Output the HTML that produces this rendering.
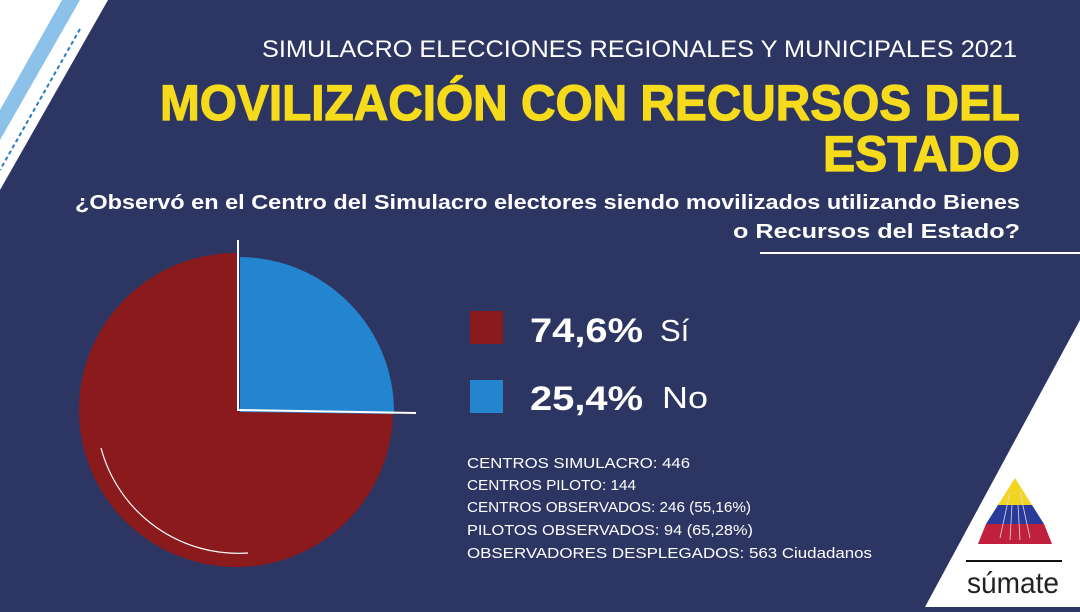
<!DOCTYPE html>
<html><head><meta charset="utf-8"><style>
html,body{margin:0;padding:0;}
body{width:1080px;height:607px;overflow:hidden;background:#2d3663;}
</style></head><body>
<svg width="1080" height="607" viewBox="0 0 1080 607" xmlns="http://www.w3.org/2000/svg" font-family="Liberation Sans, sans-serif">
<rect width="1080" height="607" fill="#2d3663"/>
<polygon points="0,0 108,0 0,190" fill="#ffffff"/>
<polygon points="62,0 80,0 0,140 0,110" fill="#8cc2ea"/>
<line x1="80" y1="29" x2="0" y2="170" stroke="#2a7bc0" stroke-width="2" stroke-dasharray="4,3"/>
<polygon points="1080,320 1080,607 925,607" fill="#ffffff"/>
<!-- logo -->
<polygon points="1015,478 1032,505 998,505" fill="#f2d520"/>
<polygon points="998,505 1032,505 1044,524 986,524" fill="#2a3a9a"/>
<polygon points="986,524 1044,524 1052,544 978,544" fill="#c0203c"/>
<g stroke="#ddd" stroke-width="0.8" fill="none">
<line x1="1010" y1="492" x2="1000" y2="538"/><line x1="1020" y1="492" x2="1030" y2="538"/>
<line x1="1012" y1="505" x2="1010" y2="540"/><line x1="1018" y1="505" x2="1020" y2="540"/>
</g>
<line x1="966" y1="561" x2="1062" y2="561" stroke="#111" stroke-width="2"/>
<text x="967" y="593" font-size="30" fill="#222" textLength="92" lengthAdjust="spacingAndGlyphs">súmate</text>
<text x="1017" y="57" font-size="24" fill="#ffffff" text-anchor="end" textLength="755" lengthAdjust="spacingAndGlyphs">SIMULACRO ELECCIONES REGIONALES Y MUNICIPALES 2021</text>
<text x="1020" y="120" font-size="50" font-weight="bold" fill="#f6da1c" stroke="#f6da1c" stroke-width="1.2" text-anchor="end" textLength="860" lengthAdjust="spacingAndGlyphs">MOVILIZACIÓN CON RECURSOS DEL</text>
<text x="1020" y="171" font-size="50" font-weight="bold" fill="#f6da1c" stroke="#f6da1c" stroke-width="1.2" text-anchor="end" textLength="197" lengthAdjust="spacingAndGlyphs">ESTADO</text>
<text x="1020" y="209" font-size="20" font-weight="bold" fill="#ffffff" text-anchor="end" textLength="945" lengthAdjust="spacingAndGlyphs">¿Observó en el Centro del Simulacro electores siendo movilizados utilizando Bienes</text>
<text x="1020" y="238" font-size="20" font-weight="bold" fill="#ffffff" text-anchor="end" textLength="287" lengthAdjust="spacingAndGlyphs">o Recursos del Estado?</text>
<line x1="760" y1="253" x2="1080" y2="253" stroke="#ffffff" stroke-width="2"/>
<path d="M238,410 L393,414 A157,157 0 1 1 238,253 Z" fill="#8b1a1c"/>
<path d="M240,412 L240,257 A155,155 0 0 1 394,414 Z" fill="#2385cf"/>
<line x1="238" y1="240" x2="238" y2="411" stroke="#fff" stroke-width="2"/>
<line x1="237" y1="410" x2="416" y2="413" stroke="#fff" stroke-width="2"/>
<path d="M101,448 A142,142 0 0 0 248,553" fill="none" stroke="#fff" stroke-width="1.2"/>
<rect x="470" y="311" width="33" height="33" fill="#8b1a1c"/>
<rect x="470" y="380" width="33" height="33" fill="#2385cf"/>
<text x="530" y="342" font-size="34" font-weight="bold" fill="#fff" textLength="113" lengthAdjust="spacingAndGlyphs">74,6%</text>
<text x="660" y="341" font-size="31" fill="#fff">Sí</text>
<text x="530" y="410" font-size="34" font-weight="bold" fill="#fff" textLength="113" lengthAdjust="spacingAndGlyphs">25,4%</text>
<text x="662" y="408" font-size="31" fill="#fff" textLength="46" lengthAdjust="spacingAndGlyphs">No</text>
<g font-size="15" fill="#ffffff">
<text x="467" y="468" textLength="223" lengthAdjust="spacingAndGlyphs">CENTROS SIMULACRO: 446</text>
<text x="467" y="490" textLength="169" lengthAdjust="spacingAndGlyphs">CENTROS PILOTO: 144</text>
<text x="467" y="512" textLength="284" lengthAdjust="spacingAndGlyphs">CENTROS OBSERVADOS: 246 (55,16%)</text>
<text x="467" y="535" textLength="286" lengthAdjust="spacingAndGlyphs">PILOTOS OBSERVADOS: 94 (65,28%)</text>
<text x="467" y="558" textLength="405" lengthAdjust="spacingAndGlyphs">OBSERVADORES DESPLEGADOS: 563 Ciudadanos</text>
</g>
</svg>
</body></html>
